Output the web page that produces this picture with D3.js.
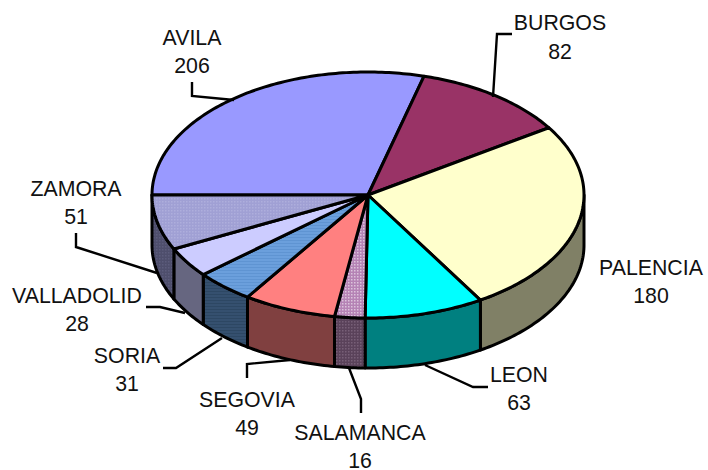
<!DOCTYPE html>
<html>
<head>
<meta charset="utf-8">
<script src="https://cdn.jsdelivr.net/npm/d3@7"></script>
<style>
    html, body { margin: 0; padding: 0; background: #fff; }
    text { font-family: "Liberation Sans", Arial, sans-serif; font-size: 21.3px; fill: #111; text-anchor: middle; }
</style>
</head>
<body>
<div id="chart"></div>
<script>
"use strict";
// slices, clockwise from the 9 o'clock position
const provinces = ["AVILA", "BURGOS", "PALENCIA", "LEON", "SALAMANCA", "SEGOVIA", "SORIA", "VALLADOLID", "ZAMORA"];
const counts = [206, 82, 180, 63, 16, 49, 31, 28, 51];
const topColors = ["#9999ff", "#993366", "#ffffcc", "#00ffff", "url(#dotsTop)", "#ff8080", "url(#stripesTop)", "#ccccff", "url(#gridTop)"];
const sideColors = ["#4d4d80", "#4d1a33", "#808066", "#008080", "url(#dotsSide)", "#804040", "url(#stripesSide)", "#666680", "url(#gridSide)"];

const measurements = { width: 708, height: 470, depth: 50 };

// label position and leader for each province
const labelLayout = {
    AVILA: { x: 192, y: 45, y2: 73, leader: [[192, 82], [192, 96], [234, 100]] },
    BURGOS: { x: 560, y: 30, y2: 59, leader: [[512, 34], [497, 34], [493, 97]] },
    PALENCIA: { x: 651, y: 275, y2: 303, leader: null },
    LEON: { x: 519, y: 382, y2: 410, leader: [[488, 387], [473, 387], [425, 365]] },
    SALAMANCA: { x: 360, y: 440, y2: 468, leader: [[361, 413], [361, 399], [349, 368]] },
    SEGOVIA: { x: 247, y: 407, y2: 435, leader: [[247, 378], [247, 364], [290, 360]] },
    SORIA: { x: 127, y: 363, y2: 391, leader: [[163, 368], [176, 368], [222, 338]] },
    VALLADOLID: { x: 77, y: 303, y2: 331, leader: [[146, 307], [160, 307], [185, 313]] },
    ZAMORA: { x: 76, y: 196, y2: 224, leader: [[76, 233], [76, 247], [157, 273]] }
};

const svg = d3.select("#chart").append("svg")
    .attr("width", measurements.width)
    .attr("height", measurements.height)
    .style("display", "block");

// the three hatched fills
const defs = svg.append("defs");
function addPattern(id, bg, fg, horizontal) {
    const p = defs.append("pattern")
        .attr("id", id)
        .attr("patternUnits", "userSpaceOnUse")
        .attr("width", 3)
        .attr("height", 3);
    p.append("rect").attr("width", 3).attr("height", 3).attr("fill", bg);
    if (horizontal) {
        p.append("rect").attr("width", 3).attr("height", 1).attr("fill", fg);
    } else {
        p.append("rect").attr("width", 1.5).attr("height", 1.5).attr("fill", fg);
    }
}
addPattern("dotsTop", "#b583b5", "#dcc4dc", false);
addPattern("dotsSide", "#5a425a", "#775f77", false);
addPattern("stripesTop", "#6b9fdc", "#5f94d2", true);
addPattern("stripesSide", "#35506f", "#2d4763", true);
addPattern("gridTop", "#a0a0d4", "#aeaedc", false);
addPattern("gridSide", "#4e4e6c", "#5c5c7c", false);

// unit circle -> tilted ellipse
const scaleX = d3.scaleLinear().domain([-1, 1]).range([152, 584]);
const scaleY = d3.scaleLinear().domain([-1, 1]).range([72, 318]);

const pie = d3.pie().sort(null).startAngle(-Math.PI / 2).endAngle(Math.PI * 1.5);
const slices = pie(counts);

const line = d3.line();

function rim(a0, a1, drop) {
    const n = Math.max(2, Math.ceil((a1 - a0) * 60));
    return d3.range(n + 1).map(function(i) {
        const a = a0 + (a1 - a0) * i / n;
        return [scaleX(Math.sin(a)), scaleY(-Math.cos(a)) + drop];
    });
}

// side walls, only the part on the front half of the ellipse
const walls = svg.append("g");
slices.forEach(function(s, i) {
    const a0 = Math.max(s.startAngle, Math.PI / 2);
    const a1 = Math.min(s.endAngle, Math.PI * 1.5);
    if (a1 <= a0) return;
    const pts = rim(a0, a1, 0).concat(rim(a0, a1, measurements.depth).reverse());
    walls.append("path")
        .attr("d", line(pts) + "Z")
        .attr("fill", sideColors[i])
        .attr("stroke", "#000")
        .attr("stroke-width", 3)
        .attr("stroke-linejoin", "round");
});

// top faces
const tops = svg.append("g");
slices.forEach(function(s, i) {
    const pts = [[scaleX(0), scaleY(0)]].concat(rim(s.startAngle, s.endAngle, 0));
    tops.append("path")
        .attr("d", line(pts) + "Z")
        .attr("fill", topColors[i])
        .attr("stroke", "#000")
        .attr("stroke-width", 3)
        .attr("stroke-linejoin", "round");
});

// labels and leader lines
provinces.forEach(function(name, i) {
    const l = labelLayout[name];
    if (l.leader) {
        svg.append("path")
            .attr("d", line(l.leader))
            .attr("fill", "none")
            .attr("stroke", "#000")
            .attr("stroke-width", 2.4);
    }
    svg.append("text").attr("x", l.x).attr("y", l.y).text(name);
    svg.append("text").attr("x", l.x).attr("y", l.y2).text(counts[i]);
});
</script>
</body>
</html>
